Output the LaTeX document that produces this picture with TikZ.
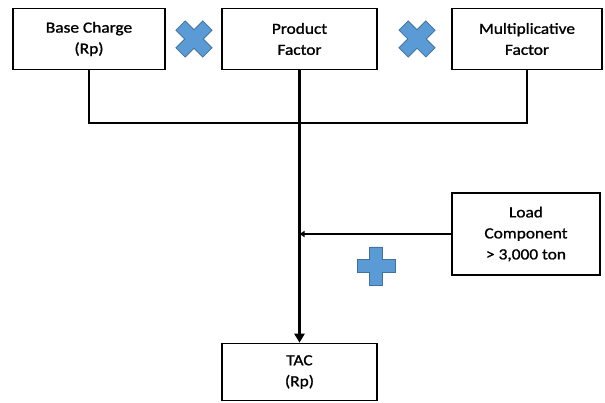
\documentclass[tikz,border=0pt]{standalone}
\usepackage{fontspec}
\setmainfont{Carlito}[FakeStretch=1.12, FakeBold=1.2]
\usepackage{xcolor}
\usetikzlibrary{arrows.meta}

\definecolor{markfill}{RGB}{91,155,213}
\definecolor{markline}{RGB}{65,113,156}

\tikzset{
    box/.style={draw, line width=1.6pt, align=center, inner sep=0pt,
        font=\fontsize{15.5}{21}\selectfont},
    link/.style={line width=1.8pt},
    mainflow/.style={line width=3.6pt, -{Triangle[width=10pt,length=9pt]}},
    sideflow/.style={line width=1.8pt, -{Triangle[width=6pt,length=5pt]}},
    pics/opmark/.style={code={
        \filldraw[fill=markfill, draw=markline, line width=0.8pt]
            (-6.5,-19) -- (6.5,-19) -- (6.5,-6.5) -- (19,-6.5) -- (19,6.5)
            -- (6.5,6.5) -- (6.5,19) -- (-6.5,19) -- (-6.5,6.5) -- (-19,6.5)
            -- (-19,-6.5) -- (-6.5,-6.5) -- cycle;
    }}
}

\begin{document}
\begin{tikzpicture}[x=1pt, y=-1pt]
    \useasboundingbox (0,0) rectangle (605,403);

    % top row
    \node[box, minimum width=152pt, minimum height=61pt] (base) at (89,39) {Base Charge\\(Rp)};
    \node[box, minimum width=155pt, minimum height=61pt] (product) at (299.5,39) {Product\\Factor};
    \node[box, minimum width=150pt, minimum height=61pt] (multi) at (527,39) {Multiplicative\\Factor};

    % side and result
    \node[box, minimum width=148pt, minimum height=82pt] (load) at (526,234) {Load\\Component\\> 3,000 ton};
    \node[box, minimum width=155pt, minimum height=57pt] (tac) at (299.5,372) {TAC\\(Rp)};

    % operators
    \pic[rotate=45] (times1) at (194,39) {opmark};
    \pic[rotate=45] (times2) at (417,39) {opmark};
    \pic (plus1) at (376,266) {opmark};

    % connectors
    \coordinate (join) at (product.south |- 0,123);
    \draw[link] (base.south) |- (join) -| (multi.south);
    \draw[mainflow] (product.south) -- (tac.north);
    \draw[sideflow] (load.west) -- (product.south |- load.west);
\end{tikzpicture}
\end{document}
